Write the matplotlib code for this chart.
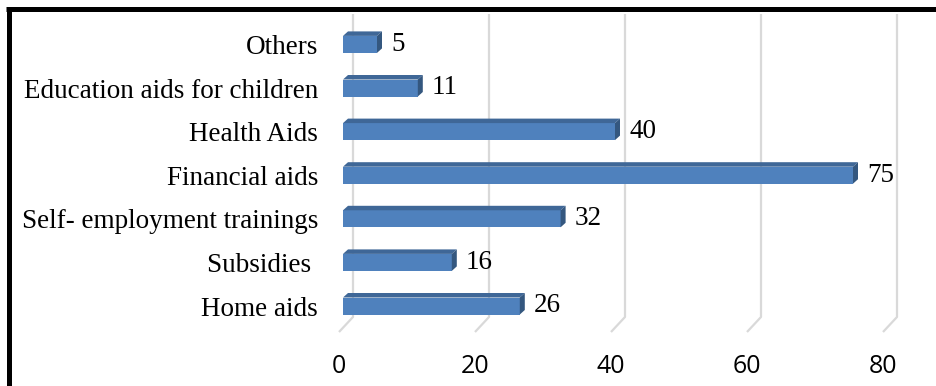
import matplotlib as mpl
import matplotlib.pyplot as plt
from matplotlib.lines import Line2D
from matplotlib.patches import Polygon, Rectangle
from matplotlib.transforms import ScaledTranslation

mpl.rcParams['font.family'] = 'Liberation Serif'

# ---------------------------------------------------------------------------- #

categories = ['Home aids', 'Subsidies ', 'Self- employment trainings',
              'Financial aids', 'Health Aids', 'Education aids for children',
              'Others']
counts = [26, 16, 32, 75, 40, 11, 5]
xticks = [0, 20, 40, 60, 80]

front_color = '#4f81bd'
top_color = '#3f6797'
side_color = '#34577f'
grid_color = '#d9d9d9'

# ---------------------------------------------------------------------------- #

W, H, dpi = 936, 386, 100
fig = plt.figure(figsize=(W / dpi, H / dpi), dpi=dpi)

# axes placed in pixels: x=0 at 343 px, 6.8 px per unit, rows 43.6 px apart
px_x = 6.8
px_y = 43.6
left, bottom = 343, 58.2
ax = fig.add_axes([left / W, bottom / H, 80 * px_x / W, 7 * px_y / H])
ax.set_xlim(0, 80)
ax.set_ylim(-0.5, 6.5)
for s in ax.spines.values():
    s.set_visible(False)

# perspective offsets (pixels -> data units)
def dx(p):
    return p / px_x

def dy(p):
    return p / px_y

# slanted gridlines on back wall and floor
y_top = dy(372 - bottom) - 0.5
y_wall = dy(69 - bottom) - 0.5
y_front = dy(54 - bottom) - 0.5
for t in xticks:
    ax.plot([t + dx(10), t + dx(10), t - dx(4)], [y_top, y_wall, y_front],
            color=grid_color, lw=1.6, solid_capstyle='butt', clip_on=False, zorder=1)

# 3d-looking bars
bh = dy(17)
ox, oy = dx(5), dy(4.5)
for i, v in enumerate(counts):
    y0, y1 = i - bh / 2, i + bh / 2
    ax.add_patch(Rectangle((0, y0), v, bh, fc=front_color, ec='none', zorder=3))
    ax.add_patch(Polygon([(0, y1), (v, y1), (v + ox, y1 + oy), (ox, y1 + oy)],
                         fc=top_color, ec='none', zorder=3))
    ax.add_patch(Polygon([(v, y0), (v, y1), (v + ox, y1 + oy), (v + ox, y0 + oy)],
                         fc=side_color, ec='none', zorder=3))
    ax.text(v + ox + dx(9), i, str(v), fontsize=19.5, va='center', ha='left')

ax.set_yticks(range(len(categories)))
ax.set_yticklabels(categories, fontsize=19.5)
ax.tick_params(axis='y', length=0, pad=18)

ax.set_xticks(xticks)
ax.set_xticklabels([str(t) for t in xticks], fontsize=18, family='Open Sans')
ax.tick_params(axis='x', length=0, pad=19)
shift = ScaledTranslation(-4 / dpi, 0, fig.dpi_scale_trans)
for lab in ax.get_xticklabels():
    lab.set_transform(lab.get_transform() + shift)

# black frame: only the top and left edges fall inside the canvas
fig.add_artist(Line2D([6 / W, 1], [1 - 9 / H, 1 - 9 / H], color='black', lw=3.6,
                      solid_capstyle='butt'))
fig.add_artist(Line2D([8.5 / W, 8.5 / W], [0, 1 - 7 / H], color='black', lw=3.6,
                      solid_capstyle='butt'))

fig.savefig('out.png', dpi=dpi)
